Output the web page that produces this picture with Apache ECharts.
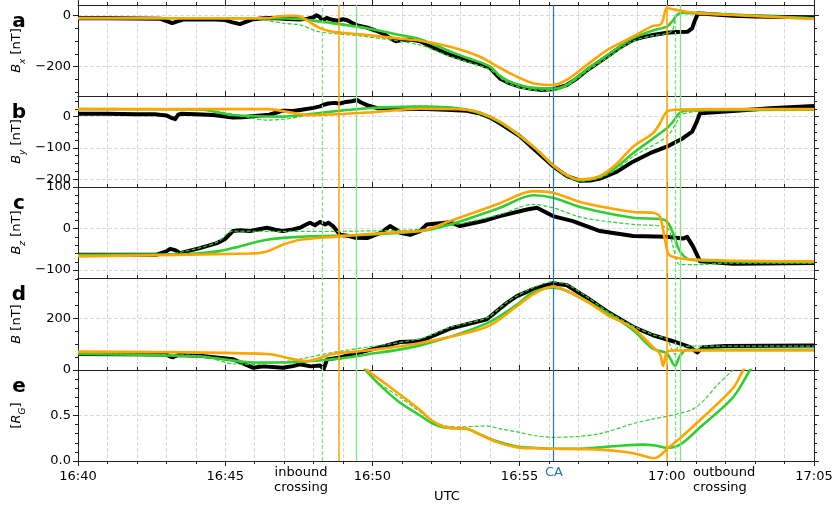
<!DOCTYPE html>
<html><head><meta charset="utf-8">
<script src="https://cdn.jsdelivr.net/npm/echarts@6/dist/echarts.min.js"></script>
<style>html,body{margin:0;padding:0;background:#fff}#c{width:836px;height:512px}</style>
</head><body><div id="c"></div>
<script>
// ---- data (time in minutes after 16:40 UTC) ----
const xTickLabels = ['16:40','16:45','16:50','16:55','17:00','17:05'];
const inboundGreenDashed = 8.28, inboundOrange = 8.86, inboundGreen = 9.44;
const caTime = 16.13;
const outboundOrange = 20.0, outboundGreenDashed = 20.28, outboundGreen = 20.45;

// Panel a: Bx [nT]
const bxObs = [[0,-10],[1,-10],[2,-11],[2.8,-12],[3.0,-20],[3.2,-29],[3.4,-21],[3.6,-14],[4.0,-15],[4.5,-14],[5.0,-17],[5.25,-26],[5.5,-33],[5.7,-24],[5.9,-15],[6.3,-10],[6.6,-9],[7.0,-12],[7.5,-15],[7.8,-12],[8.0,-6],[8.1,2],[8.2,-4],[8.3,-18],[8.45,-9],[8.6,-15],[8.8,-20],[9.0,-14],[9.15,-18],[9.3,-28],[9.5,-38],[9.8,-46],[10.1,-58],[10.4,-72],[10.6,-88],[10.8,-100],[11.0,-95],[11.3,-93],[11.62,-100],[12.0,-122],[12.64,-154],[13.2,-175],[13.65,-190],[14.0,-206],[14.33,-246],[14.6,-262],[15.0,-278],[15.4,-287],[15.7,-291],[16.13,-289],[16.6,-272],[16.9,-250],[17.3,-213],[17.97,-160],[18.4,-125],[18.85,-95],[19.2,-84],[19.53,-76],[20.0,-67],[20.35,-64],[20.7,-63],[20.86,-50],[20.95,-20],[21.06,9],[21.3,8],[21.5,6],[22.25,0],[23,-3],[24,-5],[25,-6]];
const bxGreenDashed = [[0,-10],[6.0,-12],[6.4,-18],[7.0,-30],[7.54,-36],[8.2,-63],[9.8,-82],[11.62,-115],[12.64,-160],[14.0,-212],[14.6,-265],[15.4,-290],[16.13,-293],[16.61,-276],[17.29,-218],[17.97,-165],[18.85,-100],[19.53,-78],[20.0,-70],[20.2,-55],[20.3,0],[20.4,8],[21.5,5],[25,-8]];
const bxGreen = [[0,-10],[6.52,-10],[7.54,-13],[8.22,-23],[9.82,-49],[10.94,-76],[11.62,-92],[12.64,-140],[13.2,-165],[13.65,-182],[14.0,-200],[14.33,-236],[14.6,-255],[15.0,-272],[15.4,-282],[16.13,-286],[16.61,-270],[17.29,-210],[17.97,-155],[18.85,-88],[19.53,-58],[20.0,-43],[20.2,-20],[20.35,3],[20.52,12],[21.5,8],[25,-10]];
const bxOrange = [[0,-10],[6.5,-10],[6.76,-3],[7.2,0],[7.44,0],[7.6,-6],[8.22,-49],[8.66,-63],[9.82,-76],[10.94,-90],[11.62,-98],[12.64,-122],[13.65,-161],[14.57,-220],[15.46,-265],[16.13,-272],[16.61,-251],[17.29,-193],[17.97,-135],[18.85,-82],[19.53,-40],[19.77,-36],[19.87,-17],[20.0,29],[20.35,22],[21.13,9],[22.25,3],[25,-13]];

// Panel b: By [nT]
const byObs = [[0,9],[1,9],[2,8],[2.6,8],[3.0,4],[3.2,-5],[3.3,-8],[3.4,6],[3.5,9],[4.0,8],[4.6,5],[5.26,-3],[5.6,-2],[6.0,2],[6.5,6],[6.96,19],[7.3,18],[7.6,22],[8.0,28],[8.22,33],[8.35,38],[8.5,42],[8.7,44],[8.9,42],[9.1,47],[9.3,49],[9.48,53],[9.6,46],[9.82,37],[10.16,27],[10.5,25],[10.94,24],[11.62,25],[12.5,22],[13.21,19],[13.65,10],[14.0,-3],[14.33,-21],[15.0,-62],[15.46,-101],[16.13,-158],[16.61,-190],[17.05,-205],[17.4,-204],[17.73,-198],[18.31,-176],[18.85,-144],[19.43,-117],[20.0,-96],[20.55,-69],[20.86,-48],[21.0,-20],[21.13,11],[22.25,18],[23.5,27],[25,34]];
const byGreenDashed = [[0,24],[4.14,23],[5.26,8],[6.42,-11],[7.2,-6],[7.54,0],[8.66,16],[9.82,27],[11.62,34],[12.64,30],[13.21,22],[14.33,-18],[15.46,-98],[16.13,-158],[16.61,-192],[17.05,-206],[17.73,-196],[18.31,-168],[18.85,-128],[20.0,-64],[20.35,-16],[20.52,8],[21.5,20],[25,22]];
const byGreen = [[0,24],[4.14,23],[5.26,5],[6.96,0],[8.12,11],[9.82,27],[11.62,32],[13.21,22],[14.33,-18],[15.46,-96],[16.13,-155],[16.61,-188],[17.05,-203],[17.73,-192],[18.31,-160],[18.85,-117],[20.0,-37],[20.21,-16],[20.45,13],[20.7,20],[25,22]];
const byOrange = [[0,24],[6.42,24],[7.88,5],[9.82,13],[11.62,25],[13.21,22],[14.33,-16],[15.46,-95],[16.13,-155],[16.61,-187],[17.05,-201],[17.73,-190],[18.31,-150],[18.85,-96],[19.53,-53],[19.77,-21],[20.0,16],[20.3,22],[22.25,24],[25,24]];

// Panel c: Bz [nT]
const bzObs = [[0,-63],[2.68,-63],[3.0,-55],[3.13,-49],[3.3,-52],[3.46,-59],[4.14,-47],[4.72,-35],[5.0,-25],[5.26,-6],[5.5,-4],[5.84,-6],[6.42,2],[6.7,-3],[6.96,-6],[7.3,-2],[7.54,2],[7.7,8],[7.88,14],[8.05,8],[8.22,16],[8.4,10],[8.5,14],[8.66,6],[8.9,-15],[9.2,-18],[9.4,-22],[9.82,-23],[10.1,-15],[10.3,-10],[10.6,6],[10.8,-2],[10.94,-10],[11.28,-15],[11.62,-6],[11.85,10],[12.64,15],[12.98,6],[13.76,18],[14.33,30],[15.25,46],[15.59,50],[16.13,30],[16.81,18],[17.73,-6],[18.85,-18],[20.0,-20],[20.55,-24],[20.69,-20],[20.89,-43],[21.13,-79],[22.25,-85],[25,-83]];
const bzGreenDashed = [[0,-63],[2.68,-63],[3.5,-57],[4.72,-33],[5.26,-6],[7,-7],[9.5,-6],[11.62,-2],[13.0,12],[14.33,34],[15.46,58],[16.13,50],[17.15,26],[18.85,10],[20.0,2],[20.21,-43],[20.45,-87],[21.13,-87],[22,-83],[25,-83]];
const bzGreen = [[0,-63],[3.57,-62],[4.72,-55],[5.26,-47],[6.42,-27],[7.54,-20],[9.82,-15],[11.62,-6],[12.64,10],[14.33,50],[15.46,80],[16.13,74],[17.15,50],[18.85,26],[19.87,22],[20.11,6],[20.45,-55],[20.79,-75],[22.25,-79],[25,-81]];
const bzOrange = [[0,-67],[5.84,-60],[6.42,-55],[6.96,-39],[7.54,-27],[8.66,-20],[10.94,-8],[11.62,-6],[12.64,18],[14.33,61],[15.46,90],[16.13,86],[17.15,62],[18.85,40],[19.53,38],[19.77,28],[19.94,-27],[20.11,-65],[21.13,-75],[25,-79]];

// Panel d: |B| [nT]
const bObs = [[0,62],[3.0,60],[3.13,52],[3.23,49],[3.4,58],[4.14,55],[5.26,42],[5.6,25],[5.94,9],[6.3,14],[6.96,9],[7.3,15],[7.54,22],[7.9,14],[8.22,17],[8.35,5],[8.46,41],[8.9,48],[9.82,75],[10.94,108],[11.62,111],[12.64,160],[13.89,196],[14.57,259],[14.91,285],[15.46,312],[16.13,335],[16.61,327],[17.29,279],[17.97,226],[18.85,167],[19.53,134],[20.21,111],[20.79,88],[21.03,68],[21.23,88],[22,93],[25,95]];
const bGreenDashed = [[0,62],[4.14,55],[5.26,24],[6.0,22],[7.2,35],[8.66,68],[11.62,121],[12.64,165],[13.89,202],[14.57,262],[15.46,318],[16.13,340],[16.61,330],[17.29,282],[17.97,228],[18.85,170],[19.53,136],[20.0,118],[20.28,60],[20.4,90],[21.2,92],[25,92]];
const bGreen = [[0,62],[4.14,52],[5.94,29],[6.96,29],[8.66,42],[9.82,60],[11.62,95],[13.89,180],[14.91,252],[15.46,300],[16.13,318],[16.61,305],[17.97,220],[18.85,154],[19.53,82],[20.0,64],[20.28,16],[20.45,55],[20.69,78],[25,78]];
const bOrange = [[0,71],[6.42,62],[7.3,42],[7.78,35],[8.66,62],[9.82,75],[11.62,104],[13.89,167],[14.91,246],[15.46,292],[16.13,322],[16.61,305],[17.29,265],[17.97,213],[18.85,163],[19.53,88],[19.77,62],[19.87,16],[20.0,68],[20.2,75],[25,75]];

// Panel e: distance [R_G]
const rGreenDashed = [[9.6,1.1],[9.75,1.0],[10.2,0.86],[10.94,0.7],[11.62,0.54],[12.0,0.45],[12.4,0.39],[13.0,0.375],[13.5,0.38],[13.89,0.385],[14.4,0.35],[14.91,0.32],[15.5,0.28],[16.13,0.26],[17.0,0.27],[17.73,0.30],[18.85,0.41],[19.5,0.46],[20.0,0.49],[20.5,0.53],[20.89,0.57],[21.3,0.68],[21.7,0.83],[22.25,1.0],[22.5,1.08]];
const rGreen = [[9.6,1.1],[9.77,1.0],[10.3,0.82],[10.94,0.64],[11.62,0.5],[12.0,0.42],[12.4,0.37],[12.8,0.36],[13.2,0.355],[13.6,0.3],[14.2,0.22],[14.91,0.16],[15.5,0.145],[16.13,0.135],[17.0,0.135],[17.73,0.15],[18.5,0.17],[19.2,0.18],[19.6,0.17],[20.0,0.145],[20.45,0.18],[21.13,0.37],[22.25,0.7],[22.83,1.0],[23.0,1.08]];
const rOrange = [[9.6,1.1],[9.82,1.0],[10.4,0.86],[10.94,0.73],[11.62,0.56],[12.0,0.45],[12.4,0.38],[12.8,0.36],[13.2,0.355],[13.6,0.3],[14.2,0.21],[14.91,0.15],[15.5,0.14],[16.13,0.135],[17.0,0.13],[17.73,0.125],[18.3,0.11],[18.85,0.085],[19.3,0.05],[19.53,0.03],[19.77,0.06],[20.0,0.13],[20.45,0.25],[21.13,0.45],[22.25,0.8],[22.6,1.0],[22.8,1.08]];

// ---- chart ----
const FONT = 'DejaVu Sans';
const AX = '#222';
const GRIDC = '#cfcfcf';
const ORANGE = '#ffa500', GREEN = '#32cd32', LGREEN = '#84e184', BLUE = '#1f77b4';

const panels = [
  {top:5,  h:91, min:-315, max:42,  major:[-200,0],      step:50,  letter:'a', label:'{i|B}{s|x}{n| [nT]}', obs:bxObs, gd:bxGreenDashed, g:bxGreen, o:bxOrange},
  {top:96, h:91, min:-225, max:66,  major:[-200,-100,0], step:25,  letter:'b', label:'{i|B}{s|y}{n| [nT]}', obs:byObs, gd:byGreenDashed, g:byGreen, o:byOrange},
  {top:187,h:91, min:-119, max:100, major:[-100,0,100],  step:20,  letter:'c', label:'{i|B}{s|z}{n| [nT]}', obs:bzObs, gd:bzGreenDashed, g:bzGreen, o:bzOrange},
  {top:278,h:92, min:0,    max:355, major:[0,200],       step:50,  letter:'d', label:'{i|B}{n| [nT]}', obs:bObs, gd:bGreenDashed, g:bGreen, o:bOrange},
  {top:370,h:91, min:0,    max:1.0, major:[0,0.5],       step:0.1, letter:'e', label:'{n|[}{i|R}{s|G}{n|]}', obs:null, gd:rGreenDashed, g:rGreen, o:rOrange}
];

const vlines = [
  {t:inboundGreenDashed, color:LGREEN, type:[4,2], w:1.3},
  {t:inboundOrange, color:ORANGE, type:'solid', w:1.5},
  {t:inboundGreen, color:LGREEN, type:'solid', w:1.3},
  {t:caTime, color:BLUE, type:'solid', w:1.2},
  {t:outboundOrange, color:ORANGE, type:'solid', w:1.5},
  {t:outboundGreenDashed, color:LGREEN, type:[4,2], w:1.3},
  {t:outboundGreen, color:LGREEN, type:'solid', w:1.3}
];

const grids = [], xAxes = [], yAxes = [], series = [], graphics = [];
const fmtNum = v => v < 0 ? '\u2212' + Math.abs(v) : String(v);

panels.forEach((p, i) => {
  const last = i === panels.length - 1;
  grids.push({left:78, right:22, top:p.top, height:p.h, show:false});
  const baseX = {type:'value', gridIndex:i, min:0, max:25, interval:5};
  xAxes.push(Object.assign({}, baseX, {
    position:'bottom',
    axisLine:{show:true, onZero:false, lineStyle:{color:AX, width:1}},
    axisTick:{show:last, inside:false, length:5, lineStyle:{color:AX}},
    minorTick:{show:last, splitNumber:5, length:3, lineStyle:{color:AX}},
    axisLabel:{show:last, margin:9, fontSize:13, fontFamily:FONT, color:'#000',
      formatter:v => xTickLabels[Math.round(v/5)]},
    splitLine:{show:true, lineStyle:{color:GRIDC, type:[4,2], width:0.8}},
    minorSplitLine:{show:true, lineStyle:{color:GRIDC, type:[4,2], width:0.8}}
  }));
  xAxes.push(Object.assign({}, baseX, {
    position:'top',
    axisLine:{show:true, onZero:false, lineStyle:{color:AX, width:1}},
    axisTick:{show:true, inside:false, length:5, lineStyle:{color:AX}},
    minorTick:{show:true, splitNumber:5, length:3, lineStyle:{color:AX}},
    axisLabel:{show:false}, splitLine:{show:false}
  }));
  const minor = [];
  for (let k = Math.ceil(p.min/p.step - 1e-9); k*p.step <= p.max + 1e-9; k++) minor.push(Math.round(k*p.step*1000)/1000);
  const fmt = last ? (v => v.toFixed(1)) : fmtNum;
  ['left','right'].forEach(pos => {
    yAxes.push({type:'value', gridIndex:i, position:pos, min:p.min, max:p.max,
      axisLine:{show:true, onZero:false, lineStyle:{color:AX, width:1}},
      axisTick:{show:true, inside:false, length:5, customValues:p.major, lineStyle:{color:AX}},
      axisLabel:{show:pos==='left', customValues:p.major, margin:7, fontSize:13, fontFamily:FONT, color:'#000', formatter:fmt},
      splitLine:{show:pos==='left', lineStyle:{color:GRIDC, type:[4,2], width:0.8}}
    });
    yAxes.push({type:'value', gridIndex:i, position:pos, min:p.min, max:p.max,
      axisLine:{show:false, onZero:false},
      axisTick:{show:true, inside:false, length:3, customValues:minor, lineStyle:{color:AX}},
      axisLabel:{show:false}, splitLine:{show:false}
    });
  });
  const xi = 2*i, yi = 4*i;
  const common = {type:'line', xAxisIndex:xi, yAxisIndex:yi, showSymbol:false, symbol:'none', animation:false, clip:true, silent:true};
  const sm = {smooth:0.3};
  if (p.obs) series.push(Object.assign({}, common, {data:p.obs, lineStyle:{color:'#000', width:4, join:'round'}, z:2}));
  series.push(Object.assign({}, common, sm, {data:p.gd, lineStyle:{color:GREEN, width:1.2, type:[4,2]}, z:3}));
  series.push(Object.assign({}, common, sm, {data:p.g, lineStyle:{color:GREEN, width:2.6}, z:4}));
  series.push(Object.assign({}, common, sm, {data:p.o, lineStyle:{color:ORANGE, width:2.6}, z:5,
    markLine:{silent:true, symbol:['none','none'], animation:false, label:{show:false},
      data: vlines.map(v => ({xAxis:v.t, lineStyle:{color:v.color, width:v.w, type:v.type}}))}
  }));
  // panel letter
  graphics.push({type:'text', x:19, y:p.top + 17, style:{text:p.letter, font:'bold 20px "DejaVu Sans"', fill:'#000', align:'center', verticalAlign:'middle'}, z:100});
  // y label
  graphics.push({type:'text', x:17, y:p.top + p.h/2, rotation:Math.PI/2,
    style:{text:p.label, align:'center', verticalAlign:'middle', fill:'#000',
      rich:{
        i:{fontFamily:FONT, fontSize:13, fontStyle:'italic', lineHeight:20, verticalAlign:'middle'},
        s:{fontFamily:FONT, fontSize:9, fontStyle:'italic', lineHeight:9, verticalAlign:'bottom'},
        n:{fontFamily:FONT, fontSize:13, lineHeight:20, verticalAlign:'middle'}
      }}, z:99});
});

graphics.push({type:'text', x:301, y:480.5, style:{text:'inbound\ncrossing', font:'13px "DejaVu Sans"', fill:'#000', align:'center', verticalAlign:'middle', lineHeight:15}});
graphics.push({type:'text', x:693, y:480.5, style:{text:'outbound\ncrossing', font:'13px "DejaVu Sans"', fill:'#000', align:'left', verticalAlign:'middle', lineHeight:15}});
graphics.push({type:'text', x:447, y:497, style:{text:'UTC', font:'13px "DejaVu Sans"', fill:'#000', align:'center', verticalAlign:'middle'}});
graphics.push({type:'text', x:554, y:473, style:{text:'CA', font:'13px "DejaVu Sans"', fill:BLUE, align:'center', verticalAlign:'middle'}});

const chart = echarts.init(document.getElementById('c'), null, {renderer:'canvas'});
chart.setOption({
  animation:false,
  backgroundColor:'#fff',
  textStyle:{fontFamily:FONT},
  grid:grids, xAxis:xAxes, yAxis:yAxes, series:series, graphic:graphics
});
</script>
</body></html>
